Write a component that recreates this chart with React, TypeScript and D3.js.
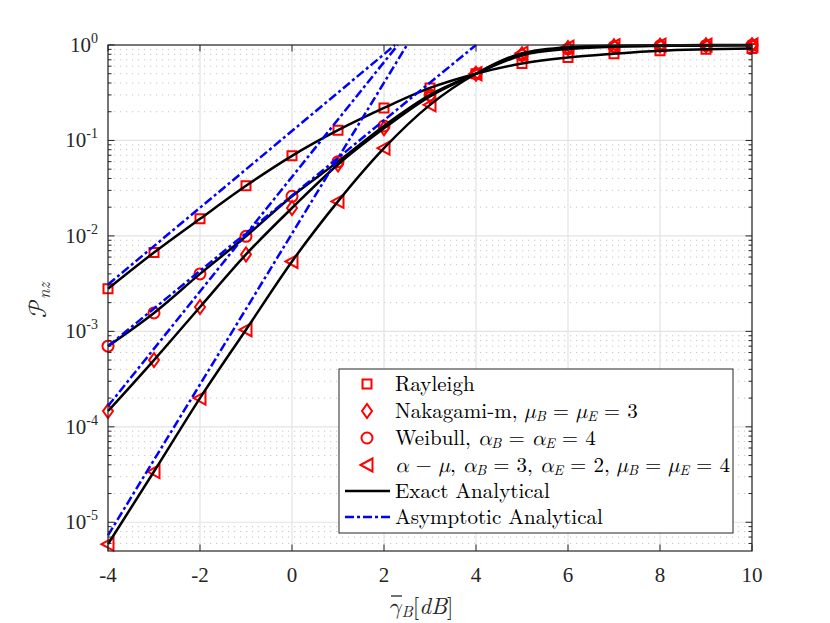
import React from 'react';
import * as d3 from 'd3';

const xValues = [-4, -3, -2, -1, 0, 1, 2, 3, 4, 5, 6, 7, 8, 9, 10];
const rayleigh = [2.8e-3, 6.7e-3, 1.51e-2, 3.35e-2, 6.9e-2, 0.128, 0.219, 0.355, 0.5, 0.64, 0.74, 0.81, 0.87, 0.9, 0.92];
const nakagami = [1.46e-4, 5.0e-4, 1.8e-3, 6.4e-3, 1.96e-2, 5.6e-2, 0.134, 0.29, 0.5, 0.8, 0.93, 0.97, 0.985, 0.993, 0.997];
const weibull = [7.0e-4, 1.56e-3, 4.0e-3, 9.9e-3, 2.6e-2, 6.0e-2, 0.142, 0.3, 0.5, 0.78, 0.91, 0.96, 0.98, 0.99, 0.995];
const alphaMu = [5.9e-6, 3.4e-5, 2.0e-4, 1.04e-3, 5.4e-3, 2.3e-2, 8.3e-2, 0.236, 0.5, 0.82, 0.95, 0.985, 0.995, 0.998, 0.999];

const rayleighAsym: [number, number][] = [[-4, 3.1e-3], [2.24, 1]];
const nakagamiAsym: [number, number][] = [[-4, 1.65e-4], [2.3, 1]];
const weibullAsym: [number, number][] = [[-4, 7.0e-4], [4, 1]];
const alphaMuAsym: [number, number][] = [[-4, 7.3e-6], [2.5, 1]];

const xTicks = [-4, -2, 0, 2, 4, 6, 8, 10];
const xTickLabels = ['-4', '-2', '0', '2', '4', '6', '8', '10'];
const yTickExps = [-5, -4, -3, -2, -1, 0];

const W = 830, H = 623;
const L = 108, R = 752, T = 45, B = 551;
const RED = '#ff0000';
const BLUE = '#0000ff';
const TICKFONT = "'Liberation Serif', 'Times New Roman', serif";
const LMFONT = "'Latin Modern Roman', 'Liberation Serif', serif";
const GREEKFONT = "'Latin Modern Math', 'STIX Two Math', 'Liberation Serif', serif";

type Shape = 'square' | 'diamond' | 'circle' | 'triangle';

function markerPath(shape: Shape, cx: number, cy: number): string {
  if (shape === 'square') {
    const s = 4.5;
    return `M${cx - s},${cy - s}H${cx + s}V${cy + s}H${cx - s}Z`;
  }
  if (shape === 'diamond') {
    return `M${cx},${cy - 7}L${cx + 5},${cy}L${cx},${cy + 7}L${cx - 5},${cy}Z`;
  }
  if (shape === 'triangle') {
    return `M${cx - 6.5},${cy}L${cx + 5.5},${cy - 6.5}L${cx + 5.5},${cy + 6.5}Z`;
  }
  const r = 5.5;
  return `M${cx - r},${cy}A${r},${r} 0 1,0 ${cx + r},${cy}A${r},${r} 0 1,0 ${cx - r},${cy}Z`;
}

type Seg = { t: string; i?: boolean; sub?: boolean; g?: boolean };

function MathText({ x, y, segs, size }: { x: number; y: number; segs: Seg[]; size: number }) {
  let prevSub = false;
  return (
    <text x={x} y={y} style={{ fontFamily: LMFONT, fontSize: size }} fill="#000" xmlSpace="preserve">
      {segs.map((s, k) => {
        let dy = 0;
        if (s.sub && !prevSub) dy = 2.5;
        if (!s.sub && prevSub) dy = -2.5;
        prevSub = !!s.sub;
        return (
          <tspan
            key={k}
            dy={dy}
            style={{
              fontStyle: s.i ? 'italic' : 'normal',
              fontSize: s.sub ? size * 0.68 : size,
              fontFamily: s.g ? GREEKFONT : LMFONT,
            }}
          >
            {s.t}
          </tspan>
        );
      })}
    </text>
  );
}

export default function App() {
  const x = d3.scaleLinear().domain([-4, 10]).range([L, R]);
  const y = d3.scaleLog().domain([5e-6, 1]).range([B, T]);

  const minorVals: number[] = [];
  for (let e = -6; e <= -1; e++) {
    for (let m = 2; m <= 9; m++) {
      const v = m * Math.pow(10, e);
      if (v >= 5e-6 && v < 1) minorVals.push(v);
    }
  }

  const line = d3
    .line<[number, number]>()
    .x((d) => x(d[0]))
    .y((d) => y(d[1]))
    .curve(d3.curveMonotoneX);
  const straight = d3
    .line<[number, number]>()
    .x((d) => x(d[0]))
    .y((d) => y(d[1]));

  const series: { vals: number[]; shape: Shape }[] = [
    { vals: rayleigh, shape: 'square' },
    { vals: nakagami, shape: 'diamond' },
    { vals: weibull, shape: 'circle' },
    { vals: alphaMu, shape: 'triangle' },
  ];
  const asyms = [rayleighAsym, nakagamiAsym, weibullAsym, alphaMuAsym];

  const legendRows: { segs: Seg[]; kind: Shape | 'exact' | 'asym' }[] = [
    { kind: 'square', segs: [{ t: 'Rayleigh' }] },
    {
      kind: 'diamond',
      segs: [
        { t: 'Nakagami-m, ' },
        { t: 'μ', i: true, g: true },
        { t: 'B', i: true, sub: true },
        { t: ' = ' },
        { t: 'μ', i: true, g: true },
        { t: 'E', i: true, sub: true },
        { t: ' = 3' },
      ],
    },
    {
      kind: 'circle',
      segs: [
        { t: 'Weibull, ' },
        { t: 'α', i: true, g: true },
        { t: 'B', i: true, sub: true },
        { t: ' = ' },
        { t: 'α', i: true, g: true },
        { t: 'E', i: true, sub: true },
        { t: ' = 4' },
      ],
    },
    {
      kind: 'triangle',
      segs: [
        { t: 'α', i: true, g: true },
        { t: ' − ' },
        { t: 'μ', i: true, g: true },
        { t: ', ' },
        { t: 'α', i: true, g: true },
        { t: 'B', i: true, sub: true },
        { t: ' = 3, ' },
        { t: 'α', i: true, g: true },
        { t: 'E', i: true, sub: true },
        { t: ' = 2, ' },
        { t: 'μ', i: true, g: true },
        { t: 'B', i: true, sub: true },
        { t: ' = ' },
        { t: 'μ', i: true, g: true },
        { t: 'E', i: true, sub: true },
        { t: ' = 4' },
      ],
    },
    { kind: 'exact', segs: [{ t: 'Exact Analytical' }] },
    { kind: 'asym', segs: [{ t: 'Asymptotic Analytical' }] },
  ];
  const legendY = [384, 411, 438, 465, 491, 517];

  return (
    <svg width={W} height={H} style={{ position: 'absolute', left: 0, top: 0, background: '#fff' }}>
      <rect x={0} y={0} width={W} height={H} fill="#fff" />
      {/* minor grid */}
      {minorVals.map((v, i) => (
        <line key={'mg' + i} x1={L} x2={R} y1={y(v)} y2={y(v)} stroke="#b8b8b8" strokeWidth={0.8} strokeDasharray="1.2,4.8" />
      ))}
      {/* major grid */}
      {yTickExps.map((e) => (
        <line key={'yg' + e} x1={L} x2={R} y1={y(Math.pow(10, e))} y2={y(Math.pow(10, e))} stroke="#e3e3e3" strokeWidth={1.2} />
      ))}
      {xTicks.map((t) => (
        <line key={'xg' + t} x1={x(t)} x2={x(t)} y1={T} y2={B} stroke="#e3e3e3" strokeWidth={1.2} />
      ))}

      {/* markers */}
      {series.map((s, si) =>
        s.vals.map((v, i) => (
          <path key={'m' + si + '-' + i} d={markerPath(s.shape, x(xValues[i]), y(v))} fill="none" stroke={RED} strokeWidth={2} />
        ))
      )}
      {/* exact lines */}
      {series.map((s, si) => (
        <path
          key={'l' + si}
          d={line(s.vals.map((v, i) => [xValues[i], v] as [number, number])) || ''}
          fill="none"
          stroke="#000"
          strokeWidth={2.5}
        />
      ))}
      {/* asymptotes */}
      {asyms.map((a, i) => (
        <path key={'a' + i} d={straight(a) || ''} fill="none" stroke={BLUE} strokeWidth={2.5} strokeDasharray="9,3,3,3" />
      ))}

      {/* axes box */}
      <rect x={L} y={T} width={R - L} height={B - T} fill="none" stroke="#262626" strokeWidth={1.2} />
      {/* x ticks */}
      {xTicks.map((t) => (
        <g key={'xt' + t}>
          <line x1={x(t)} x2={x(t)} y1={B} y2={B - 6.5} stroke="#262626" strokeWidth={1} />
          <line x1={x(t)} x2={x(t)} y1={T} y2={T + 6.5} stroke="#262626" strokeWidth={1} />
        </g>
      ))}
      {/* y ticks */}
      {yTickExps.map((e) => {
        const yy = y(Math.pow(10, e));
        return (
          <g key={'yt' + e}>
            <line x1={L} x2={L + 6.5} y1={yy} y2={yy} stroke="#262626" strokeWidth={1} />
            <line x1={R} x2={R - 6.5} y1={yy} y2={yy} stroke="#262626" strokeWidth={1} />
          </g>
        );
      })}
      {minorVals.map((v, i) => (
        <g key={'ymt' + i}>
          <line x1={L} x2={L + 3.5} y1={y(v)} y2={y(v)} stroke="#262626" strokeWidth={1} />
          <line x1={R} x2={R - 3.5} y1={y(v)} y2={y(v)} stroke="#262626" strokeWidth={1} />
        </g>
      ))}

      {/* x tick labels */}
      {xTicks.map((t, i) => (
        <text key={'xl' + t} x={x(t)} y={B + 31} textAnchor="middle" style={{ fontFamily: TICKFONT, fontSize: 21 }} fill="#262626">
          {xTickLabels[i]}
        </text>
      ))}
      {/* y tick labels */}
      {yTickExps.map((e) => (
        <text key={'yl' + e} x={98} y={y(Math.pow(10, e)) + 7} textAnchor="end" style={{ fontFamily: TICKFONT, fontSize: 21 }} fill="#262626">
          <tspan>10</tspan>
          <tspan dy={-9} style={{ fontSize: 14 }}>
            {String(e)}
          </tspan>
        </text>
      ))}

      {/* x label */}
      <line x1={391} x2={402} y1={596} y2={596} stroke="#262626" strokeWidth={1.3} />
      <text x={388} y={614} style={{ fontFamily: LMFONT, fontSize: 23 }} fill="#262626">
        <tspan style={{ fontStyle: 'italic', fontFamily: GREEKFONT }}>γ</tspan>
        <tspan style={{ fontStyle: 'italic', fontSize: 16 }} dy={3}>B</tspan>
        <tspan dy={-3}>[</tspan>
        <tspan style={{ fontStyle: 'italic' }}>dB</tspan>
        <tspan>]</tspan>
      </text>
      {/* y label */}
      <text transform="translate(46,318) rotate(-90)" style={{ fontFamily: LMFONT, fontSize: 25 }} fill="#262626">
        <tspan style={{ fontFamily: GREEKFONT }}>𝒫</tspan>
        <tspan style={{ fontStyle: 'italic', fontSize: 17 }} dy={4}>nz</tspan>
      </text>

      {/* legend */}
      <rect x={339} y={369} width={394} height={164} fill="#fff" stroke="#262626" strokeWidth={1} />
      {legendRows.map((r, i) => {
        const ly = legendY[i];
        let sample: React.ReactNode = null;
        if (r.kind === 'exact') {
          sample = <line x1={345} x2={390} y1={ly} y2={ly} stroke="#000" strokeWidth={2.5} />;
        } else if (r.kind === 'asym') {
          sample = <line x1={345} x2={390} y1={ly} y2={ly} stroke={BLUE} strokeWidth={2.5} strokeDasharray="9,3,3,3" />;
        } else {
          sample = <path d={markerPath(r.kind, 367, ly)} fill="none" stroke={RED} strokeWidth={2} />;
        }
        return (
          <g key={'lg' + i}>
            {sample}
            <MathText x={395} y={ly + 7} segs={r.segs} size={21} />
          </g>
        );
      })}
    </svg>
  );
}
